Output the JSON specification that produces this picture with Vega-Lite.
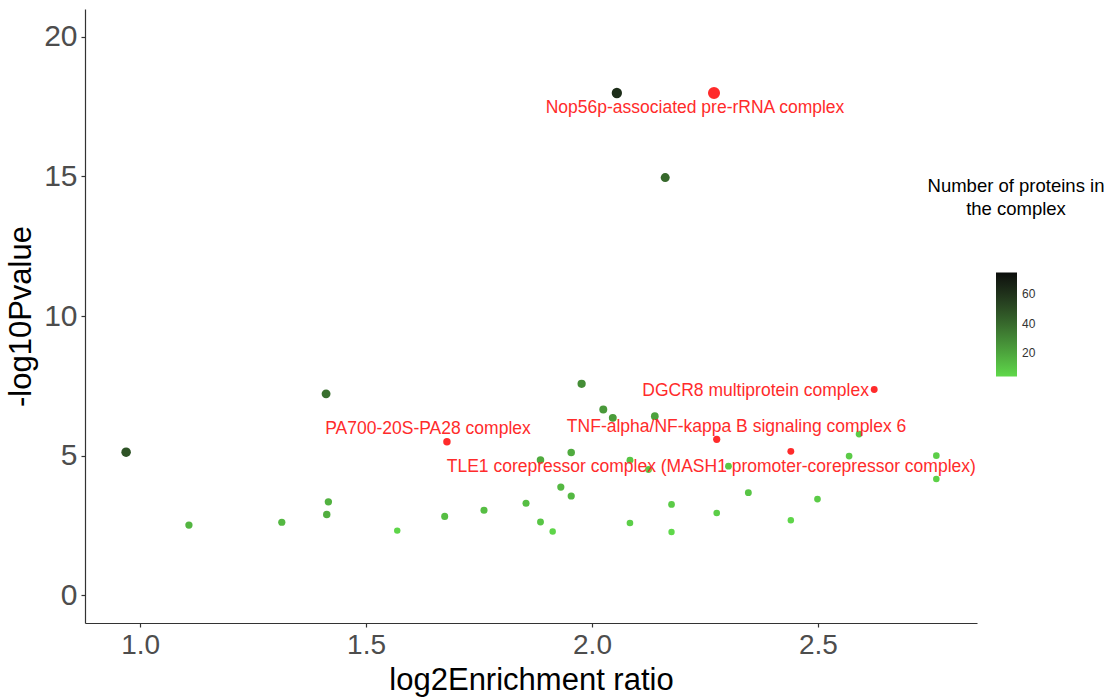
{
  "$schema": "https://vega.github.io/schema/vega-lite/v6.json",
  "autosize": "none",
  "width": 892,
  "height": 614,
  "padding": {"left": 85, "top": 9, "right": 132, "bottom": 74},
  "background": "white",
  "config": {
    "view": {"stroke": null},
    "font": "Liberation Sans",
    "axis": {
      "grid": false,
      "domainColor": "#333333",
      "domainWidth": 1.2,
      "tickColor": "#333333",
      "tickWidth": 1.2,
      "tickSize": 4,
      "labelColor": "#4d4d4d",
      "labelFont": "Liberation Sans",
      "titleFont": "Liberation Sans",
      "titleColor": "#000000",
      "titleFontWeight": "normal"
    }
  },
  "datasets": {
    "complexes": [
      {"ratio": 0.969, "p": 5.12, "n": 48, "hl": false},
      {"ratio": 1.4115, "p": 7.21, "n": 38, "hl": false},
      {"ratio": 1.4166, "p": 3.34, "n": 16, "hl": false},
      {"ratio": 1.413, "p": 2.885, "n": 17, "hl": false},
      {"ratio": 1.108, "p": 2.51, "n": 15, "hl": false},
      {"ratio": 1.3135, "p": 2.61, "n": 14, "hl": false},
      {"ratio": 1.569, "p": 2.31, "n": 5, "hl": false},
      {"ratio": 1.674, "p": 2.82, "n": 12, "hl": false},
      {"ratio": 1.761, "p": 3.04, "n": 12, "hl": false},
      {"ratio": 1.977, "p": 7.57, "n": 28, "hl": false},
      {"ratio": 2.025, "p": 6.65, "n": 24, "hl": false},
      {"ratio": 2.046, "p": 6.35, "n": 23, "hl": false},
      {"ratio": 2.139, "p": 6.41, "n": 21, "hl": false},
      {"ratio": 2.591, "p": 5.77, "n": 8, "hl": false},
      {"ratio": 2.569, "p": 4.98, "n": 8, "hl": false},
      {"ratio": 2.762, "p": 4.995, "n": 7, "hl": false},
      {"ratio": 2.762, "p": 4.16, "n": 6, "hl": false},
      {"ratio": 1.954, "p": 5.11, "n": 18, "hl": false},
      {"ratio": 1.886, "p": 4.84, "n": 18, "hl": false},
      {"ratio": 2.084, "p": 4.83, "n": 10, "hl": false},
      {"ratio": 2.125, "p": 4.5, "n": 9, "hl": false},
      {"ratio": 2.302, "p": 4.62, "n": 9, "hl": false},
      {"ratio": 1.931, "p": 3.87, "n": 14, "hl": false},
      {"ratio": 1.954, "p": 3.55, "n": 14, "hl": false},
      {"ratio": 1.854, "p": 3.29, "n": 12, "hl": false},
      {"ratio": 2.346, "p": 3.67, "n": 10, "hl": false},
      {"ratio": 2.499, "p": 3.44, "n": 8, "hl": false},
      {"ratio": 2.176, "p": 3.25, "n": 8, "hl": false},
      {"ratio": 2.276, "p": 2.94, "n": 7, "hl": false},
      {"ratio": 1.886, "p": 2.62, "n": 10, "hl": false},
      {"ratio": 2.084, "p": 2.585, "n": 7, "hl": false},
      {"ratio": 2.44, "p": 2.68, "n": 5, "hl": false},
      {"ratio": 1.913, "p": 2.28, "n": 5, "hl": false},
      {"ratio": 2.176, "p": 2.26, "n": 4, "hl": false},
      {"ratio": 2.055, "p": 17.99, "n": 62, "hl": false},
      {"ratio": 2.162, "p": 14.96, "n": 40, "hl": false},
      {"ratio": 2.27, "p": 17.99, "n": 96, "hl": true},
      {"ratio": 1.679, "p": 5.495, "n": 17, "hl": true},
      {"ratio": 2.276, "p": 5.58, "n": 14, "hl": true},
      {"ratio": 2.44, "p": 5.15, "n": 10, "hl": true},
      {"ratio": 2.6245, "p": 7.365, "n": 10, "hl": true}
    ],
    "labels": [
      {"ratio": 2.228, "p": 17.44, "label": "Nop56p-associated pre-rRNA complex"},
      {"ratio": 2.362, "p": 7.3, "label": "DGCR8 multiprotein complex"},
      {"ratio": 2.32, "p": 6.03, "label": "TNF-alpha/NF-kappa B signaling complex 6"},
      {"ratio": 1.637, "p": 5.96, "label": "PA700-20S-PA28 complex"},
      {"ratio": 2.264, "p": 4.6, "label": "TLE1 corepressor complex (MASH1 promoter-corepressor complex)"}
    ]
  },
  "layer": [
    {
      "data": {"name": "complexes"},
      "mark": {"type": "circle", "opacity": 1},
      "encoding": {
        "x": {
          "field": "ratio", "type": "quantitative",
          "scale": {"domain": [0.878, 2.852], "nice": false, "zero": false},
          "axis": {"values": [1, 1.5, 2, 2.5], "format": ".1f", "title": "log2Enrichment ratio",
                   "labelFontSize": 28, "labelPadding": 4, "titleFontSize": 31, "titlePadding": 6}
        },
        "y": {
          "field": "p", "type": "quantitative",
          "scale": {"domain": [-1, 21], "nice": false, "zero": false},
          "axis": {"values": [0, 5, 10, 15, 20], "title": "-log10Pvalue",
                   "labelFontSize": 30, "labelPadding": 4, "titleFontSize": 31, "titlePadding": 6}
        },
        "color": {
          "condition": {"test": "datum.hl", "value": "#ff2b2b"},
          "field": "n", "type": "quantitative",
          "scale": {"domain": [4, 75], "range": ["#5fd84a", "#0b0d0b"], "interpolate": "lab", "clamp": true},
          "legend": {
            "title": ["Number of proteins in", "the complex"],
            "orient": "none", "legendX": 843, "legendY": 168,
            "direction": "vertical",
            "values": [20, 40, 60],
            "gradientLength": 104, "gradientThickness": 21, "gradientStrokeWidth": 0,
            "labelFontSize": 12, "labelColor": "#333333", "labelFont": "Liberation Sans", "labelOffset": 5,
            "titleFontSize": 18.5, "titleLineHeight": 23, "titleFont": "Liberation Sans",
            "titleFontWeight": "normal", "titleColor": "#000000",
            "titleAnchor": "middle", "titleAlign": "center", "titlePadding": 54,
            "tickCount": 3
          }
        },
        "size": {
          "field": "n", "type": "quantitative",
          "scale": {"domain": [0, 100], "range": [36, 150]},
          "legend": null
        },
        "order": {"field": "hl", "type": "nominal"}
      }
    },
    {
      "data": {"name": "labels"},
      "mark": {"type": "text", "font": "Liberation Sans", "fontSize": 17.5, "color": "#ff2b2b", "align": "center", "baseline": "middle"},
      "encoding": {
        "x": {"field": "ratio", "type": "quantitative"},
        "y": {"field": "p", "type": "quantitative"},
        "text": {"field": "label"}
      }
    }
  ]
}
